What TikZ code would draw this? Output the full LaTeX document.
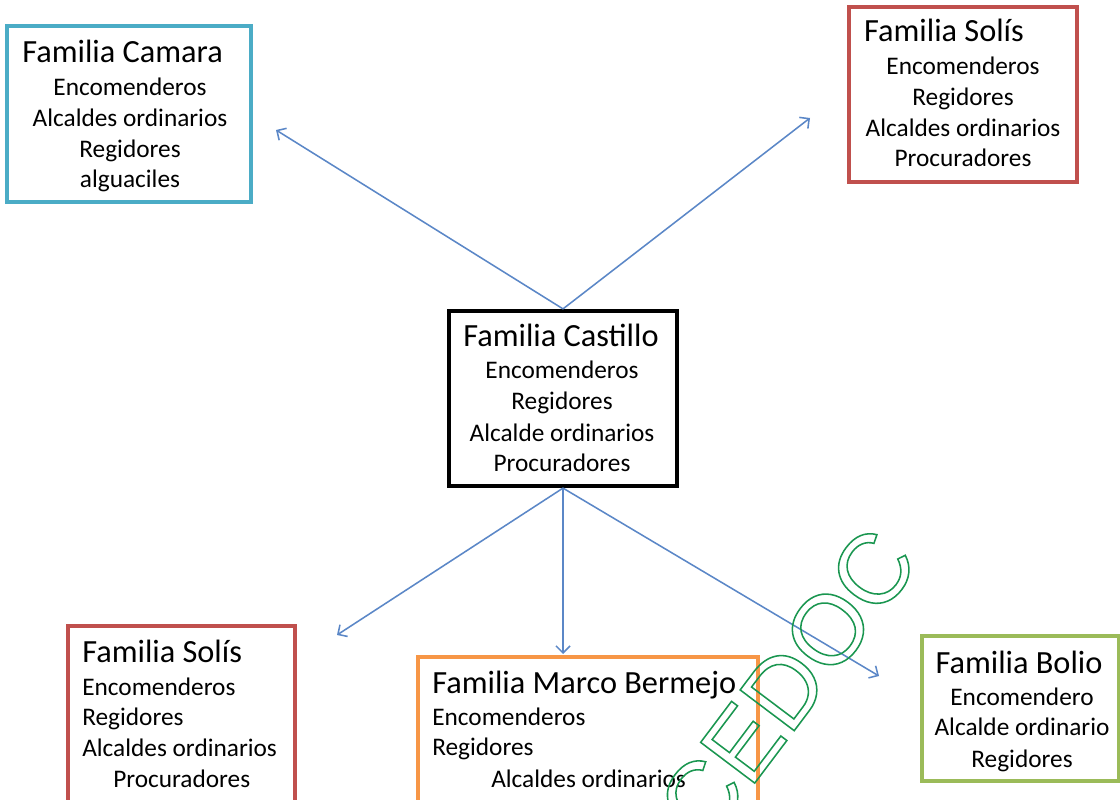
\documentclass[tikz,border=0pt]{standalone}
\usepackage{fontspec}
\setmainfont{Carlito}
\newfontfamily\cedocfont{Liberation Sans}
\usepackage{xcolor}
\usetikzlibrary{arrows.meta,fit}

\definecolor{camaracyan}{HTML}{4BACC6}
\definecolor{solisred}{HTML}{C0504D}
\definecolor{marcoorange}{HTML}{F79646}
\definecolor{boliogreen}{HTML}{9BBB59}
\definecolor{enlaceazul}{HTML}{5B87C7}
\definecolor{cedocverde}{HTML}{1A9650}

\tikzset{
	famcaja/.style={draw=#1, line width=2.5pt, rectangle, inner sep=0pt},
	famtitulo/.style={font=\fontsize{23}{27}\selectfont, inner sep=0pt, anchor=base},
	famcargo/.style={font=\fontsize{18}{21}\selectfont, inner sep=0pt, anchor=base},
	enlace/.style={draw=enlaceazul, line width=1.1pt, -{Straight Barb[length=5pt,width=10pt]}}
}

\begin{document}
\begin{tikzpicture}[x=0.025cm,y=-0.025cm]
			\useasboundingbox (0,0) rectangle (1120,800);
			\clip (0,0) rectangle (1120,800);

			% cajas
			\node[famcaja=camaracyan, fit={(7,26) (251,202)}] (camara) {};
			\node[famcaja=solisred, fit={(849,7) (1077,182)}] (solisa) {};
			\node[famcaja=black, line width=3pt, fit={(449,311) (677,486)}] (castillo) {};
			\node[famcaja=solisred, fit={(68,626) (295,812)}] (solisb) {};
			\node[famcaja=marcoorange, fit={(418,657) (758,812)}] (marco) {};
			\node[famcaja=boliogreen, fit={(922,636) (1119,781)}] (bolio) {};

			% Familia Camara
			\node[famtitulo, anchor=base west] (camara-tit) at (22,63) {Familia Camara};
			\foreach \n/\y/\t in {1/96/Encomenderos, 2/127/Alcaldes ordinarios, 3/158/Regidores, 4/188/alguaciles}
				\node[famcargo] (camara-\n) at (130,\y) {\t};

			% Familia Solis (arriba)
			\node[famtitulo] (solisa-tit) at (944,42) {Familia Solís};
			\foreach \n/\y/\t in {1/75/Encomenderos, 2/106/Regidores, 3/137/Alcaldes ordinarios, 4/167/Procuradores}
				\node[famcargo] (solisa-\n) at (963,\y) {\t};

			% Familia Castillo
			\node[famtitulo] (castillo-tit) at (561,347) {Familia Castillo};
			\foreach \n/\y/\t in {1/379/Encomenderos, 2/410/Regidores, 3/442/Alcalde ordinarios, 4/472/Procuradores}
				\node[famcargo] (castillo-\n) at (562,\y) {\t};

			% Familia Solis (abajo)
			\node[famtitulo, anchor=base west] (solisb-tit) at (82,662) {Familia Solís};
			\foreach \n/\y/\t in {1/695/Encomenderos, 2/725/Regidores, 3/756/Alcaldes ordinarios}
				\node[famcargo, anchor=base west] (solisb-\n) at (82,\y) {\t};
			\node[famcargo, anchor=base west] (solisb-4) at (113,787) {Procuradores};

			% Familia Marco Bermejo
			\node[famtitulo, anchor=base west] (marco-tit) at (432,693) {Familia Marco Bermejo};
			\node[famcargo, anchor=base west] (marco-1) at (432,725) {Encomenderos};
			\node[famcargo, anchor=base west] (marco-2) at (432,755) {Regidores};
			\node[famcargo, anchor=base west] (marco-3) at (491,787) {Alcaldes ordinarios};

			% Familia Bolio
			\node[famtitulo] (bolio-tit) at (1019,673) {Familia Bolio};
			\foreach \n/\y/\t in {1/705/Encomendero, 2/735/Alcalde ordinario, 3/767/Regidores}
				\node[famcargo] (bolio-\n) at (1022,\y) {\t};

			% flechas
			\coordinate (camara-in) at (276,130);
			\coordinate (solisa-in) at (810,118);
			\coordinate (solisb-in) at (337,635);
			\coordinate (marco-in) at (563,654);
			\coordinate (bolio-in) at (879,676);
			\draw[enlace] (castillo.north) -- (camara-in);
			\draw[enlace] (castillo.north) -- (solisa-in);
			\draw[enlace] (castillo.south) -- (solisb-in);
			\draw[enlace] (castillo.south) -- (marco-in);
			\draw[enlace] (castillo.south) -- (bolio-in);

			% marca de agua
			\node[font=\cedocfont\fontsize{70}{70}\selectfont, text=cedocverde, rotate=53, inner sep=0pt] (cedoc) at (787,684)
				{\special{pdf:literal direct 1 Tr 1.1 w}CEDOC\special{pdf:literal direct 0 Tr}};
		\end{tikzpicture}
\end{document}
